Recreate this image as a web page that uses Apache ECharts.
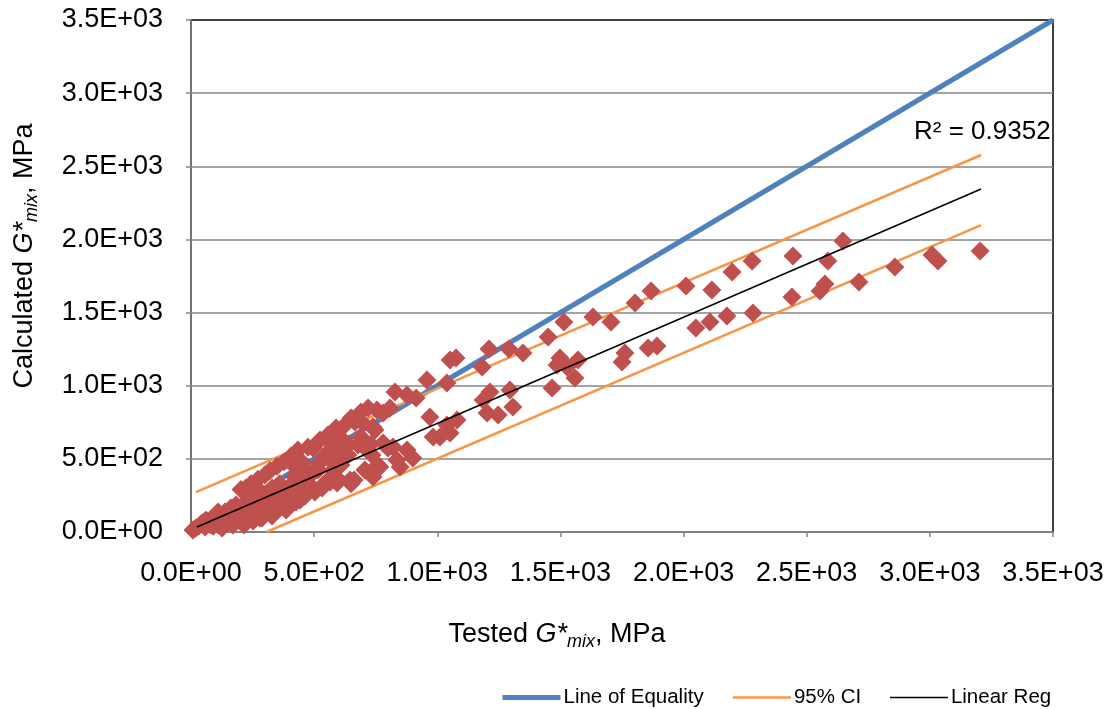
<!DOCTYPE html>
<html>
<head>
<meta charset="utf-8">
<script src="https://cdn.jsdelivr.net/npm/echarts@6/dist/echarts.min.js"></script>
<style>
html,body{margin:0;padding:0;background:#fff;}
#chart{width:1109px;height:709px;}
</style>
</head>
<body>
<div id="chart"></div>
<script>
// Axis ticks (MPa)
const xTicks = [0, 500, 1000, 1500, 2000, 2500, 3000, 3500];
const yTicks = [0, 500, 1000, 1500, 2000, 2500, 3000, 3500];

// Measured data: [Tested G*mix, Calculated G*mix] (MPa)
const measured = [
  [3204,1921],[3033,1853],[3009,1894],[2858,1812],[2712,1709],[2647,1989],[2586,1853],[2574,1695],
  [2554,1647],[2444,1887],[2440,1606],[2282,1497],[2278,1853],[2197,1777],[2176,1477],[2115,1654],
  [2107,1436],[2050,1395],[2010,1682],[1892,1271],[1856,1258],[1868,1647],[1803,1565],[1762,1224],
  [1750,1162],[1705,1436],[1632,1470],[1514,1436],[1450,1333],[1571,1176],[1498,1189],[1527,1128],
  [1486,1142],[1559,1053],[1466,984],[1348,1224],[1291,1251],[1210,1251],[1182,1128],[1214,957],
  [1295,971],[1307,855],[1247,800],[1202,813],[1186,902],[1076,1189],[1052,1176],[1039,1019],
  [958,1039],[914,916],[877,937],[828,957],[808,848],[755,834],[698,745],[666,752],[617,629],
  [593,663],[970,786],[1039,731],[1080,766],[1011,649],[983,649],[1052,677],[901,506],[877,561],
  [820,581],[780,608],[836,492],[849,444],[759,458],[739,376],[767,444],[800,574],[715,561],
  [646,355],[593,335],[577,424],[780,813],[739,718],
  [8,14],[20,27],[32,41],[45,62],[57,34],[69,75],[81,48],[93,96],[106,68],[118,116],[126,27],
  [138,137],[150,82],[162,164],[170,48],[183,185],[191,109],[203,290],[211,68],[223,300],[231,144],
  [244,330],[252,75],[260,185],[272,360],[280,96],[288,219],[300,390],[309,137],[321,420],[329,109],
  [337,253],[349,450],[357,164],[369,301],[378,480],[386,150],[398,219],[406,520],[414,335],[426,205],
  [434,560],[443,273],[455,390],[463,246],[475,580],[483,321],[495,574],[503,273],[516,424],[524,629],
  [536,321],[544,526],[556,663],[565,369],[577,595],[589,711],[601,355],[609,458],[625,731],[637,526],
  [650,779],[662,355],[678,595],[690,820],[706,424],[719,848],[735,526],[747,697],[650,330],[565,342],
  [532,300],[443,219],[361,164],[288,96],[215,48],[110,137],[248,308],[240,200],[300,250],[350,300],
  [420,380],[470,420],[520,470],[560,500],[600,540],[640,600],[690,650],[730,600],
  [60,80],[100,100],[130,90],[160,120],[190,150],[210,180],[230,250],[260,260],[280,280],[310,230],
  [330,300],[360,330],[380,260],[400,300],[420,450],[450,480],[480,380],[500,420],[380,200],[340,180],
  [300,170],[260,130],[230,110],[200,90],[170,100],[140,60],[110,50],[90,40]
];

// Reference lines
const equalityLine = [[0,0],[3500,3500]];
const ciUpper = [[20,273],[3208,2577]];
const ciLower = [[306,0],[3208,2098]];
const regLine = [[24,34],[3208,2345]];
const r2Text = 'R² = 0.9352';

const FONT = '"Liberation Sans", Arial, sans-serif';

function sci(v){
  const parts = Number(v).toExponential(1).split('e');
  const sign = parts[1][0];
  const digits = parts[1].slice(1).padStart(2,'0');
  return parts[0] + 'E' + sign + digits;
}

const chart = echarts.init(document.getElementById('chart'), null, {renderer:'canvas'});

const nameRich = {
  a:{fontSize:27, fontFamily:FONT, color:'#000'},
  g:{fontSize:27, fontFamily:FONT, color:'#000', fontStyle:'italic'},
  s:{fontSize:18, fontFamily:FONT, color:'#000', fontStyle:'italic', padding:[15,0,0,0]}
};

const axisGray = '#868686';

chart.setOption({
  animation:false,
  backgroundColor:'#fff',
  grid:{left:191, right:56, top:20, bottom:177, show:true, borderColor:'#000', borderWidth:1.5, backgroundColor:'transparent'},
  legend:{
    data:[
      {name:'Line of Equality', lineStyle:{width:5}},
      {name:'95% CI', lineStyle:{width:2.5}},
      {name:'Linear Reg', lineStyle:{width:1.5}}
    ],
    left:495, top:682,
    itemWidth:58, itemHeight:14, itemGap:28,
    itemStyle:{opacity:0},
    textStyle:{fontSize:20.5, fontFamily:FONT, color:'#000', padding:[0,0,0,-2]}
  },
  xAxis:{
    type:'value', min:xTicks[0], max:xTicks[xTicks.length-1], interval:xTicks[1]-xTicks[0],
    axisLine:{show:true, lineStyle:{color:axisGray, width:1.5}},
    axisTick:{show:true, length:5, lineStyle:{color:axisGray, width:1.5}},
    splitLine:{show:false},
    axisLabel:{fontSize:27, fontFamily:FONT, color:'#000', margin:28, formatter:sci},
    name:'{a|Tested }{g|G*}{s|mix}{a|, MPa}',
    nameLocation:'middle', nameGap:86,
    nameTextStyle:{rich:nameRich, padding:[0,130,0,0]}
  },
  yAxis:{
    type:'value', min:yTicks[0], max:yTicks[yTicks.length-1], interval:yTicks[1]-yTicks[0],
    axisLine:{show:true, lineStyle:{color:axisGray, width:1.5}},
    axisTick:{show:true, length:5, lineStyle:{color:axisGray, width:1.5}},
    splitLine:{show:true, showMaxLine:false, lineStyle:{color:axisGray, width:1.5}},
    axisLabel:{fontSize:27, fontFamily:FONT, color:'#000', margin:28, formatter:sci},
    name:'{a|Calculated }{g|G*}{s|mix}{a|, MPa}',
    nameLocation:'middle', nameGap:150, nameRotate:90,
    nameTextStyle:{rich:nameRich, padding:[0,0,0,40]}
  },
  series:[
    {name:'Line of Equality', type:'line', data:equalityLine, symbol:'none', z:2,
     lineStyle:{color:'#4F81BD', width:5}, itemStyle:{color:'#4F81BD'}},
    {name:'95% CI', type:'line', data:ciUpper, symbol:'none', z:3,
     lineStyle:{color:'#F79646', width:2.5}, itemStyle:{color:'#F79646'}},
    {name:'95% CI', type:'line', data:ciLower, symbol:'none', z:3,
     lineStyle:{color:'#F79646', width:2.5}, itemStyle:{color:'#F79646'}},
    {name:'Measured', type:'scatter', data:measured, symbol:'diamond', symbolSize:19, z:4,
     itemStyle:{color:'#C0504D', opacity:1}},
    {name:'Linear Reg', type:'line', data:regLine, symbol:'none', z:5,
     lineStyle:{color:'#000', width:1.5}, itemStyle:{color:'#000'}}
  ],
  graphic:[
    {type:'text', left:914, top:119, z:10,
     style:{text:r2Text, font:'26px "Liberation Sans", Arial, sans-serif', fill:'#000'}}
  ]
});
</script>
</body>
</html>
